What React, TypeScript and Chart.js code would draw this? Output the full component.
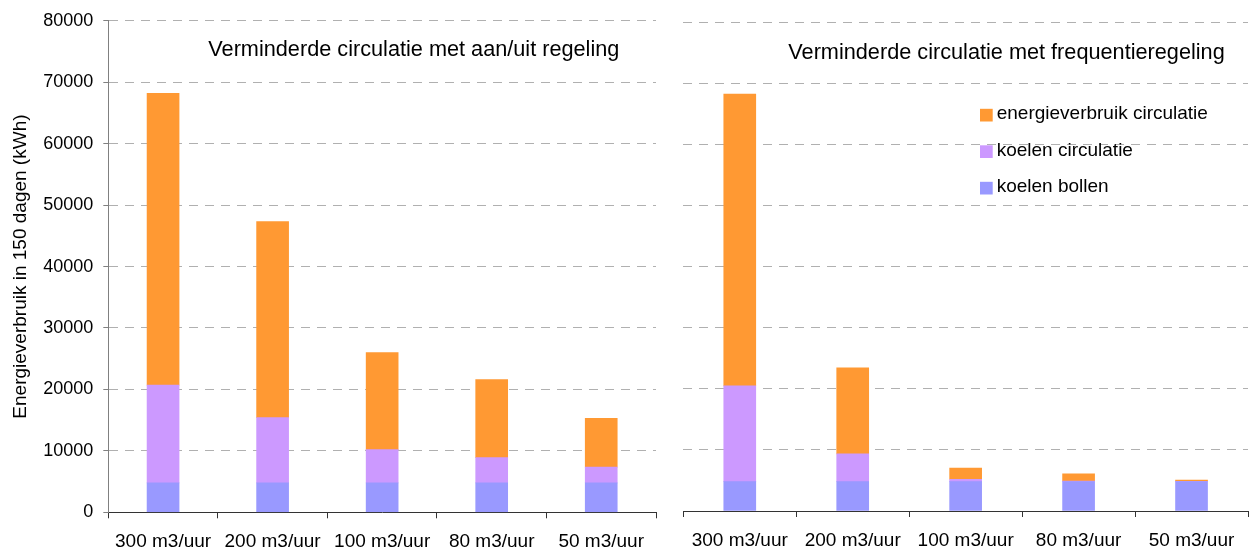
import React, { useEffect, useRef } from 'react';
import { Chart, registerables } from 'chart.js';

Chart.register(...registerables);

const FONT = '"Liberation Sans", Arial, Helvetica, sans-serif';

// ---- data ----
const categories = ['300 m3/uur', '200 m3/uur', '100 m3/uur', '80 m3/uur', '50 m3/uur'];
const seriesNames = ['koelen bollen', 'koelen circulatie', 'energieverbruik circulatie'];
const seriesColors = ['#9999FF', '#CC99FF', '#FF9933'];

const leftBollen = [4800, 4800, 4800, 4800, 4800];
const leftCirculatie = [15900, 10600, 5400, 4100, 2550];
const leftEnergie = [47500, 31900, 15800, 12700, 7950];

const rightBollen = [4800, 4800, 4800, 4800, 4800];
const rightCirculatie = [15700, 4550, 400, 120, 50];
const rightEnergie = [47800, 14100, 1850, 1150, 230];

const yTickValues = [0, 10000, 20000, 30000, 40000, 50000, 60000, 70000, 80000];

const titleLeft = 'Verminderde circulatie met aan/uit regeling';
const titleRight = 'Verminderde circulatie met frequentieregeling';
const yAxisTitle = 'Energieverbruik in 150 dagen (kWh)';

// ---- plugins ----
const panelTitlePlugin = {
  id: 'panelTitle',
  afterDraw(chart: any, _args: any, opts: any) {
    const { ctx, chartArea } = chart;
    ctx.save();
    ctx.font = `${opts.size}px ${FONT}`;
    ctx.fillStyle = '#000';
    ctx.textAlign = 'left';
    ctx.textBaseline = 'alphabetic';
    ctx.fillText(opts.text, chartArea.left + opts.dx, chartArea.top + opts.dy);
    ctx.restore();
  },
};

const boxLegendPlugin = {
  id: 'boxLegend',
  afterDraw(chart: any, _args: any, opts: any) {
    if (!opts || !opts.show) return;
    const { ctx, chartArea } = chart;
    const ds = chart.data.datasets.slice().reverse();
    ctx.save();
    ctx.font = `${opts.size}px ${FONT}`;
    ctx.textAlign = 'left';
    ctx.textBaseline = 'alphabetic';
    ds.forEach((d: any, i: number) => {
      const x = chartArea.left + opts.dx;
      const base = chartArea.top + opts.dy + i * opts.step;
      ctx.fillStyle = d.backgroundColor;
      ctx.fillRect(x, base - 10.5, opts.box, opts.box);
      ctx.fillStyle = '#000';
      ctx.fillText(d.label, x + opts.box + 4, base);
    });
    ctx.restore();
  },
};

function makeDatasets(a: number[], b: number[], c: number[]) {
  return [a, b, c].map((data, i) => ({
    label: seriesNames[i],
    data,
    backgroundColor: seriesColors[i],
    borderWidth: 0,
    barThickness: 32,
  }));
}

function makeConfig(side: 'left' | 'right'): any {
  const isLeft = side === 'left';
  const datasets = isLeft
    ? makeDatasets(leftBollen, leftCirculatie, leftEnergie)
    : makeDatasets(rightBollen, rightCirculatie, rightEnergie);
  const yWidth = isLeft ? 108.3 : 13.3;
  const xHeight = isLeft ? 38.7 : 40;
  return {
    type: 'bar',
    data: { labels: categories, datasets },
    plugins: [panelTitlePlugin, boxLegendPlugin],
    options: {
      animation: false,
      responsive: false,
      maintainAspectRatio: false,
      layout: {
        padding: isLeft
          ? { top: 19.5, right: 14, left: 0, bottom: 0 }
          : { top: 22.7, right: 2, left: 0, bottom: 0 },
      },
      plugins: {
        legend: { display: false },
        tooltip: { enabled: false },
        title: { display: false },
        panelTitle: isLeft
          ? { text: titleLeft, size: 21.7, dx: 100, dy: 35 }
          : { text: titleRight, size: 21.7, dx: 105, dy: 36.6 },
        boxLegend: isLeft
          ? { show: false }
          : { show: true, size: 19, dx: 296.7, dy: 96.6, step: 36.5, box: 12.7 },
      },
      scales: {
        x: {
          stacked: true,
          afterFit: (s: any) => {
            s.height = xHeight;
          },
          ticks: {
            font: { family: FONT, size: 19 },
            color: '#000',
            padding: 12,
            maxRotation: 0,
            minRotation: 0,
            autoSkip: false,
          },
          grid: {
            drawOnChartArea: false,
            drawTicks: true,
            tickLength: 6,
            tickColor: '#333',
            offset: true,
          },
          border: { display: true, color: '#333', width: 1 },
        },
        y: {
          stacked: true,
          min: 0,
          max: 80000,
          afterFit: (s: any) => {
            s.width = yWidth;
          },
          afterBuildTicks: (s: any) => {
            s.ticks = yTickValues.map((v) => ({ value: v }));
          },
          ticks: {
            display: isLeft,
            font: { family: FONT, size: 18 },
            color: '#000',
            padding: 10,
            callback: (v: any) => String(v),
          },
          grid: {
            color: (c: any) => (c.tick && c.tick.value === 0 ? 'rgba(0,0,0,0)' : '#b0b0b0'),
            drawTicks: isLeft,
            tickLength: 5,
            tickColor: '#808080',
            lineWidth: 1,
          },
          border: { display: isLeft, color: '#808080', width: 1, dash: [9, 7] },
          title: {
            display: isLeft,
            text: yAxisTitle,
            color: '#000',
            font: { family: FONT, size: 19 },
            padding: { top: 9, bottom: 0 },
          },
        },
      },
    },
  };
}

function Panel({ side, left, width }: { side: 'left' | 'right'; left: number; width: number }) {
  const ref = useRef<HTMLCanvasElement | null>(null);
  useEffect(() => {
    if (!ref.current) return;
    const chart = new Chart(ref.current, makeConfig(side));
    return () => chart.destroy();
  }, [side]);
  return (
    <canvas
      ref={ref}
      width={width}
      height={551}
      style={{ position: 'absolute', left, top: 0, width, height: 551 }}
    />
  );
}

export default function App() {
  return (
    <div style={{ position: 'absolute', left: 0, top: 0, width: 1250, height: 551, background: '#fff' }}>
      <Panel side="left" left={0} width={670} />
      <Panel side="right" left={670} width={580} />
    </div>
  );
}
